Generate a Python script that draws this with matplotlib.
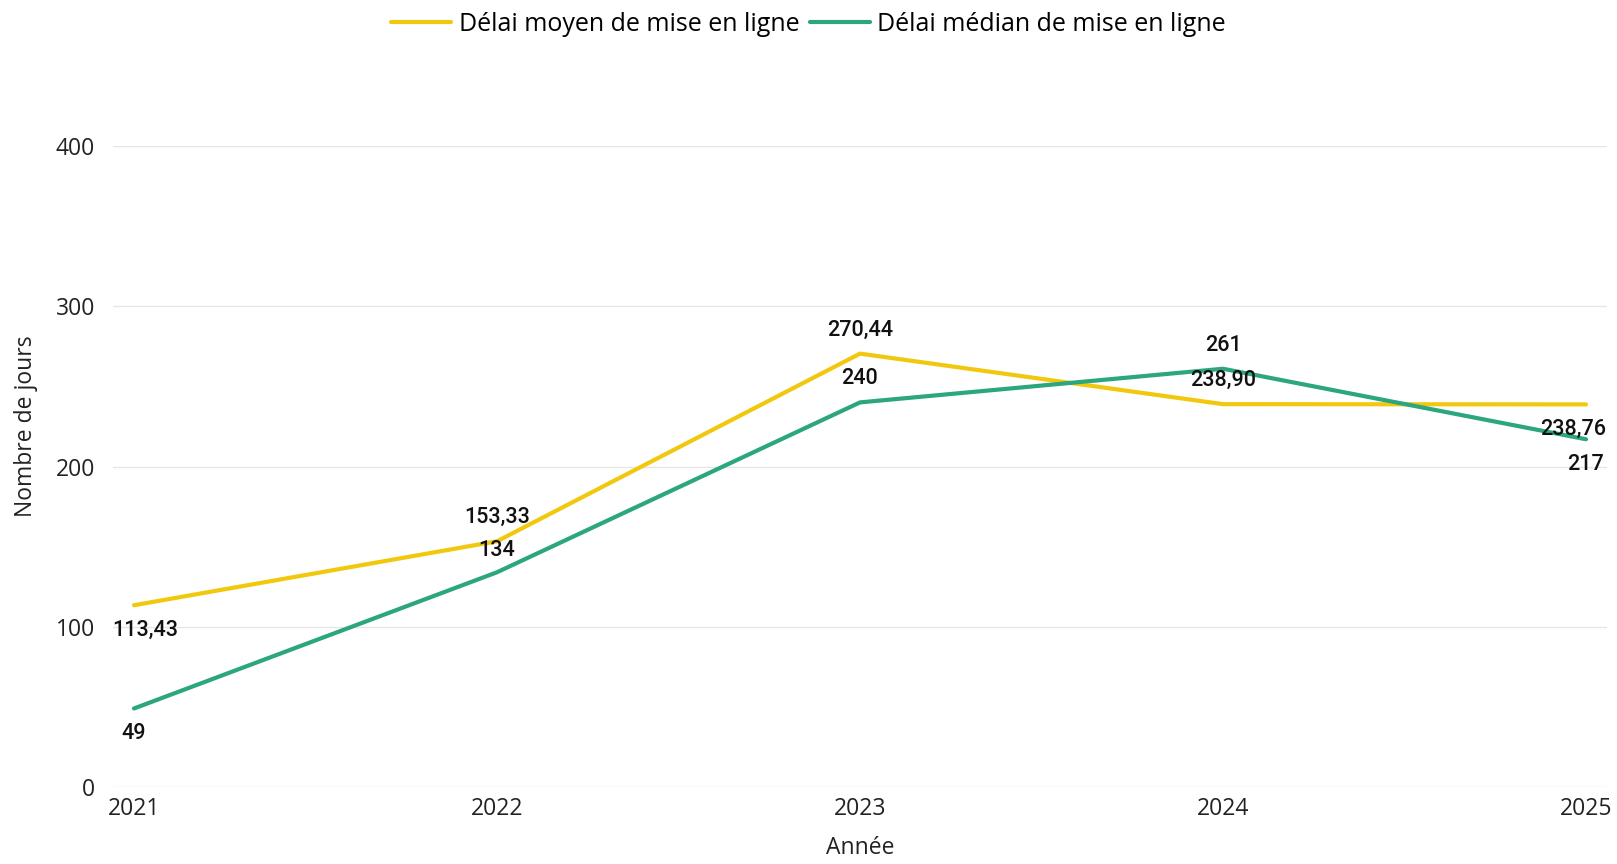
import numpy as np
import matplotlib
matplotlib.use('Agg')
import matplotlib.pyplot as plt

# data
annees = [2021, 2022, 2023, 2024, 2025]
delai_moyen = [113.43, 153.33, 270.44, 238.90, 238.76]
delai_median = [49, 134, 240, 261, 217]
lbl_moyen = ['113,43', '153,33', '270,44', '238,90', '238,76']
lbl_median = ['49', '134', '240', '261', '217']
yticks = [0, 100, 200, 300, 400]

col_moyen = '#F2C80F'
col_median = '#2BA67E'

plt.rcParams['font.family'] = ['Open Sans', 'DejaVu Sans']

fig = plt.figure(figsize=(16.17, 8.64), dpi=100)
ax = fig.add_axes([113/1617, 1-787/864, 1494/1617, 641/864])

ax.plot(annees, delai_moyen, color=col_moyen, lw=3, label='Délai moyen de mise en ligne', solid_capstyle='round')
ax.plot(annees, delai_median, color=col_median, lw=3, label='Délai médian de mise en ligne', solid_capstyle='round')

# label offsets (points) - above / below like the original
off_moyen = [(8, -18), (0, 17), (0, 17), (0, 17), (-9, -18)]
off_median = [(0, -18), (0, 16), (0, 17), (0, 17), (0, -18)]
for x, y, t, o in zip(annees, delai_moyen, lbl_moyen, off_moyen):
    ax.annotate(t, (x, y), xytext=o, textcoords='offset points', ha='center', va='center',
                fontsize=15.5, family=['Roboto', 'DejaVu Sans'], fontweight='medium', color='#111111')
for x, y, t, o in zip(annees, delai_median, lbl_median, off_median):
    ax.annotate(t, (x, y), xytext=o, textcoords='offset points', ha='center', va='center',
                fontsize=15.5, family=['Roboto', 'DejaVu Sans'], fontweight='medium', color='#111111')

ax.set_xlim(2021 - 21/363, 2025 + 21/363)
ax.set_ylim(0, 400)
ax.set_xticks(annees)
ax.set_yticks(yticks)
ax.tick_params(axis='both', length=0, labelsize=16.5, colors='#222222')
ax.tick_params(axis='y', pad=13)
ax.tick_params(axis='x', pad=7)
ax.grid(axis='y', color='#E6E6E6', lw=1)
ax.set_axisbelow(True)
for s in ax.spines.values():
    s.set_visible(False)

ax.set_xlabel('Année', fontsize=16.5, va='center', color='#222222')
ax.set_ylabel('Nombre de jours', fontsize=16.5, va='center', color='#222222')
ax.xaxis.set_label_coords(0.5, (787-848)/641)
ax.yaxis.set_label_coords((26-113)/1494, (787-426)/641)

fig.legend(loc='upper center', bbox_to_anchor=(0.5, 1.012), ncol=2, frameon=False,
           fontsize=18, handlelength=2.4, handletextpad=0.3, columnspacing=0.4)

plt.savefig('out.png', dpi=100)
